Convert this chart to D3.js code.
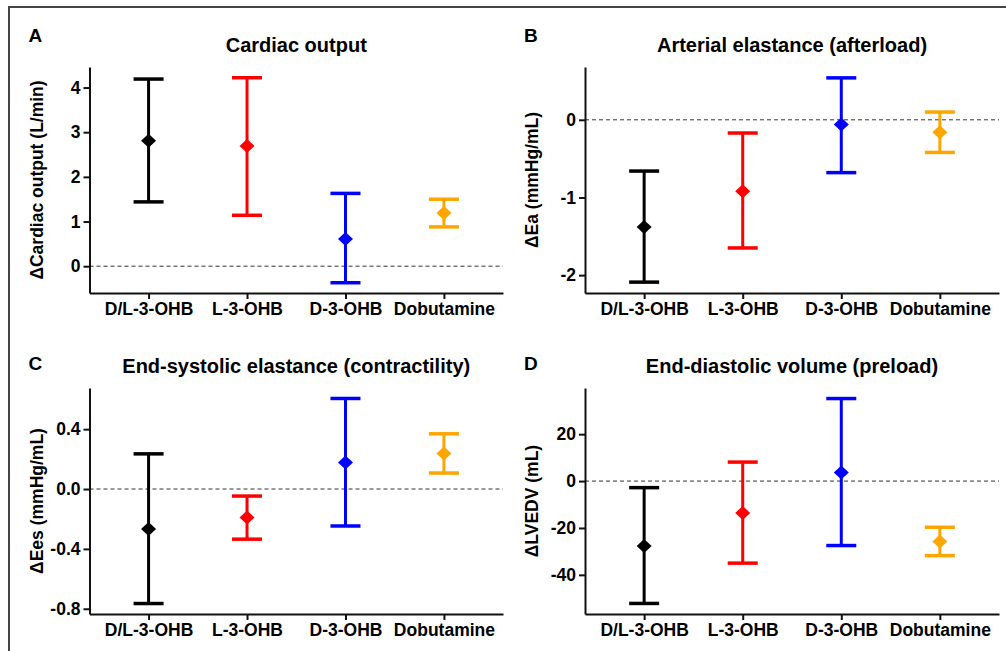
<!DOCTYPE html>
<html>
<head>
<meta charset="utf-8">
<script src="https://cdn.jsdelivr.net/npm/d3@7"></script>
<style>
  body { margin: 0; background: #fff; }
  svg { display: block; font-family: "Liberation Sans", Arial, Helvetica, sans-serif; font-weight: bold; }
  .axis path, .axis line { stroke: #111; stroke-width: 2; }
  .axis text { font-size: 17.5px; font-weight: bold; fill: #000; }
</style>
</head>
<body>
<svg id="chart"></svg>
<script>
const groups = ["D/L-3-OHB", "L-3-OHB", "D-3-OHB", "Dobutamine"];
const groupColors = ["#000000", "#ff0000", "#0000ff", "#ffa500"];

// A: cardiac output (L/min)
const coMean = [2.81, 2.69, 0.61, 1.19];
const coLow = [1.44, 1.14, -0.37, 0.88];
const coHigh = [4.19, 4.22, 1.63, 1.50];
const coTicks = [0, 1, 2, 3, 4];

// B: arterial elastance (mmHg/mL)
const eaMean = [-1.38, -0.92, -0.06, -0.16];
const eaLow = [-2.09, -1.65, -0.68, -0.42];
const eaHigh = [-0.66, -0.17, 0.54, 0.10];
const eaTicks = [-2, -1, 0];

// C: end-systolic elastance (mmHg/mL)
const eesMean = [-0.267, -0.19, 0.178, 0.238];
const eesLow = [-0.765, -0.335, -0.247, 0.107];
const eesHigh = [0.235, -0.047, 0.605, 0.369];
const eesTicks = [-0.8, -0.4, 0.0, 0.4];

// D: end-diastolic volume (mL)
const edvMean = [-27.7, -13.6, 3.7, -25.8];
const edvLow = [-52.2, -35.0, -27.5, -31.8];
const edvHigh = [-2.8, 8.1, 35.2, -19.7];
const edvTicks = [-40, -20, 0, 20];

const width = 1006;
const height = 651;

const svg = d3.select("#chart").attr("width", width).attr("height", height);

// outer frame (top and left edges only)
svg.append("path")
  .attr("d", `M9,${height}V7H${width}`)
  .attr("fill", "none")
  .attr("stroke", "#444")
  .attr("stroke-width", 2);

const hyphen = (fmt) => (d) => fmt(d).replace("\u2212", "-");

const panels = [
  {
    letter: "A", title: "Cardiac output", ylabel: "\u0394Cardiac output (L/min)",
    mean: coMean, low: coLow, high: coHigh, ticks: coTicks, domain: [-0.6, 4.46],
    fmt: hyphen(d3.format("d")),
    x0: 89.5, x1: 503, y0: 67, y1: 293, letterY: 41.5, titleY: 51.5,
  },
  {
    letter: "B", title: "Arterial elastance (afterload)", ylabel: "\u0394Ea (mmHg/mL)",
    mean: eaMean, low: eaLow, high: eaHigh, ticks: eaTicks, domain: [-2.23, 0.68],
    fmt: hyphen(d3.format("d")),
    x0: 585, x1: 999, y0: 67, y1: 293, letterY: 41.5, titleY: 51.5,
  },
  {
    letter: "C", title: "End-systolic elastance (contractility)", ylabel: "\u0394Ees (mmHg/mL)",
    mean: eesMean, low: eesLow, high: eesHigh, ticks: eesTicks, domain: [-0.835, 0.675],
    fmt: hyphen(d3.format(".1f")),
    x0: 89.5, x1: 503, y0: 388, y1: 614, letterY: 370, titleY: 373,
  },
  {
    letter: "D", title: "End-diastolic volume (preload)", ylabel: "\u0394LVEDV (mL)",
    mean: edvMean, low: edvLow, high: edvHigh, ticks: edvTicks, domain: [-56.7, 39.7],
    fmt: hyphen(d3.format("d")),
    x0: 585, x1: 999, y0: 388, y1: 614, letterY: 370, titleY: 373,
  },
];

panels.forEach(drawPanel);

function drawPanel(p) {
  const g = svg.append("g");

  const x = d3.scalePoint().domain(groups).range([p.x0, p.x1]).padding(0.6);
  const y = d3.scaleLinear().domain(p.domain).range([p.y1, p.y0]);

  const rows = groups.map((name, i) => ({
    name,
    color: groupColors[i],
    mean: p.mean[i],
    low: p.low[i],
    high: p.high[i],
  }));

  // zero reference line
  g.append("line")
    .attr("x1", p.x0)
    .attr("x2", p.x1)
    .attr("y1", y(0))
    .attr("y2", y(0))
    .attr("stroke", "#333")
    .attr("stroke-width", 1)
    .attr("stroke-dasharray", "4,3");

  // axes
  g.append("g")
    .attr("class", "axis")
    .attr("transform", `translate(${p.x0},0)`)
    .call(d3.axisLeft(y).tickValues(p.ticks).tickFormat(p.fmt).tickSize(6).tickSizeOuter(0).tickPadding(3))
    .call((a) => a.selectAll("text").attr("font-family", null));

  g.append("g")
    .attr("class", "axis")
    .attr("transform", `translate(0,${p.y1})`)
    .call(d3.axisBottom(x).tickSize(6).tickSizeOuter(0).tickPadding(4))
    .call((a) => a.selectAll("text").attr("font-family", null));

  // error bars
  const capHalf = 15;
  const bars = g.append("g")
    .selectAll("g")
    .data(rows)
    .join("g")
    .attr("stroke", (d) => d.color)
    .attr("fill", (d) => d.color);

  bars.append("line")
    .attr("x1", (d) => x(d.name))
    .attr("x2", (d) => x(d.name))
    .attr("y1", (d) => y(d.low))
    .attr("y2", (d) => y(d.high))
    .attr("stroke-width", 3);

  bars.selectAll(".cap")
    .data((d) => [d.low, d.high].map((v) => ({ name: d.name, v })))
    .join("line")
    .attr("class", "cap")
    .attr("x1", (d) => x(d.name) - capHalf)
    .attr("x2", (d) => x(d.name) + capHalf)
    .attr("y1", (d) => y(d.v))
    .attr("y2", (d) => y(d.v))
    .attr("stroke-width", 3.5);

  bars.append("path")
    .attr("stroke", "none")
    .attr("d", "M0,-7L7.5,0L0,7L-7.5,0Z")
    .attr("transform", (d) => `translate(${x(d.name)},${y(d.mean)})`);

  // labels
  g.append("text")
    .attr("x", p.x0 - 61)
    .attr("y", p.letterY)
    .attr("font-size", 19)
    .text(p.letter);

  g.append("text")
    .attr("x", (p.x0 + p.x1) / 2)
    .attr("y", p.titleY)
    .attr("text-anchor", "middle")
    .attr("font-size", 20)
    .text(p.title);

  g.append("text")
    .attr("text-anchor", "middle")
    .attr("font-size", 17.5)
    .attr("dy", "0.36em")
    .attr("transform", `translate(${p.x0 - 53},${(p.y0 + p.y1) / 2})rotate(-90)`)
    .text(p.ylabel);
}
</script>
</body>
</html>
